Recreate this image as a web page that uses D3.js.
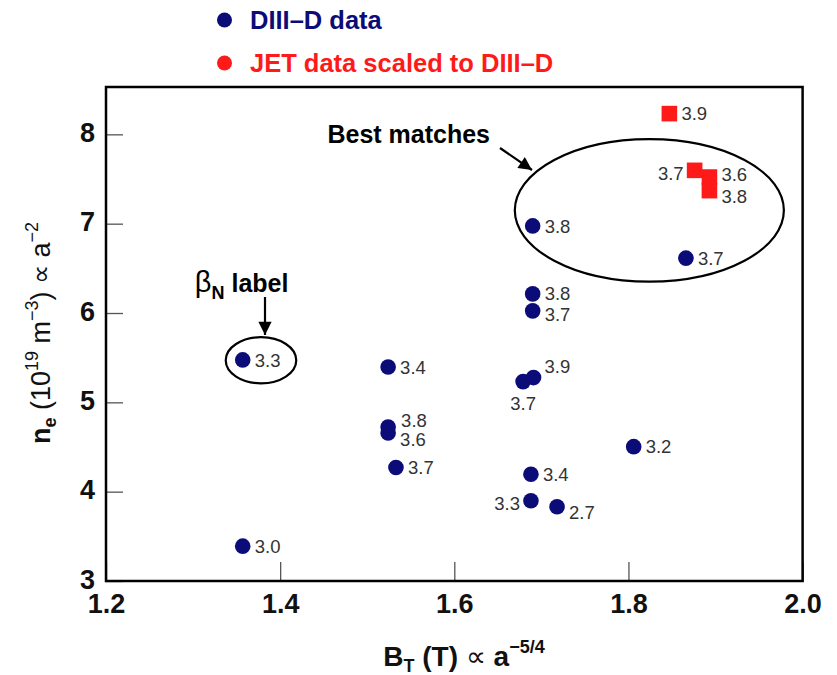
<!DOCTYPE html>
<html>
<head>
<meta charset="utf-8">
<script src="https://cdn.jsdelivr.net/npm/d3@7"></script>
<style>
  html, body { margin: 0; padding: 0; background: #fff; }
  svg { display: block; font-family: "Liberation Sans", Arial, Helvetica, sans-serif; }
</style>
</head>
<body>
<svg id="chart" width="837" height="675"></svg>
<script>
// ---------------- data ----------------
const diiidBT   = [1.357, 1.524, 1.524, 1.524, 1.533, 1.357, 1.690, 1.866, 1.690, 1.690, 1.679, 1.691, 1.688, 1.688, 1.718, 1.806];
const diiidNe   = [5.475, 5.396, 4.724, 4.657, 4.270, 3.390, 6.975, 6.614, 6.214, 6.024, 5.232, 5.277, 4.195, 3.899, 3.832, 4.504];
const diiidBeta = ["3.3", "3.4", "3.8", "3.6", "3.7", "3.0", "3.8", "3.7", "3.8", "3.7", "3.7", "3.9", "3.4", "3.3", "2.7", "3.2"];
const diiidSide = ["r", "r", "ru", "rd", "r", "r", "r", "r", "rt", "rb", "b", "ur", "r", "l", "rd", "r"];

const jetBT   = [1.847, 1.876, 1.893, 1.893];
const jetNe   = [8.232, 7.597, 7.522, 7.370];
const jetBeta = ["3.9", "3.7", "3.6", "3.8"];
const jetSide = ["r", "l", "rs", "rd"];

const xTicks = [1.2, 1.4, 1.6, 1.8, 2.0];
const yTicks = [3, 4, 5, 6, 7, 8];

const legendLabels = ["DIII\u2013D data", "JET data scaled to DIII\u2013D"];

// ---------------- layout ----------------
const svg = d3.select("#chart");
const x = d3.scaleLinear().domain([1.2, 2.0]).range([106, 802.6]);
const y = d3.scaleLinear().domain([3, 8.53]).range([581, 87]);

const navy = "#0c0c78";
const red = "#ff1a1a";
const labelColor = "#333";

// axes (inward ticks)
const xAxis = d3.axisBottom(x).tickValues(xTicks).tickSize(-19).tickPadding(12).tickFormat(d3.format(".1f"));
const yAxis = d3.axisLeft(y).tickValues(yTicks).tickSize(-17).tickPadding(11).tickFormat(d3.format("d"));

const gx = svg.append("g").attr("transform", `translate(0,${y(3)})`).call(xAxis);
const gy = svg.append("g").attr("transform", `translate(${x(1.2)},0)`).call(yAxis);
[gx, gy].forEach(g => {
  g.select(".domain").remove();
  g.selectAll(".tick line").attr("stroke", "#555").attr("stroke-width", 1.3);
  g.selectAll(".tick text").attr("fill", "#111").attr("font-size", 27).attr("font-weight", "bold")
    .attr("font-family", "'Liberation Sans', Arial, sans-serif");
});
gy.selectAll(".tick text").attr("dy", "0.26em");
gx.selectAll(".tick text").attr("dy", "0.75em");

// frame
svg.append("rect")
  .attr("x", x(1.2)).attr("y", y(8.53))
  .attr("width", x(2.0) - x(1.2)).attr("height", y(3) - y(8.53))
  .attr("fill", "none").attr("stroke", "#000").attr("stroke-width", 2.5);

// label placement helper
function labelOffset(side) {
  switch (side) {
    case "r":  return {dx: 12, dy: 0, anchor: "start"};
    case "rt": return {dx: 12, dy: -1, anchor: "start"};
    case "rb": return {dx: 12, dy: 3, anchor: "start"};
    case "ru": return {dx: 13, dy: -7, anchor: "start"};
    case "rs": return {dx: 12, dy: -3, anchor: "start"};
    case "rd": return {dx: 12, dy: 6, anchor: "start"};
    case "ur": return {dx: 11, dy: -11, anchor: "start"};
    case "l":  return {dx: -11, dy: 3, anchor: "end"};
    case "b":  return {dx: 0, dy: 22, anchor: "middle"};
  }
}

// JET squares
const jet = jetBT.map((v, i) => ({bt: v, ne: jetNe[i], beta: jetBeta[i], side: jetSide[i]}));
const sq = 15.6;
svg.append("g").selectAll("rect").data(jet).join("rect")
  .attr("x", d => x(d.bt) - sq / 2).attr("y", d => y(d.ne) - sq / 2)
  .attr("width", sq).attr("height", sq).attr("fill", red);

// DIII-D circles
const diiid = diiidBT.map((v, i) => ({bt: v, ne: diiidNe[i], beta: diiidBeta[i], side: diiidSide[i]}));
svg.append("g").selectAll("circle").data(diiid).join("circle")
  .attr("cx", d => x(d.bt)).attr("cy", d => y(d.ne)).attr("r", 7.8).attr("fill", navy);

// value labels
svg.append("g").selectAll("text").data(diiid.concat(jet)).join("text")
  .each(function(d) {
    const o = labelOffset(d.side);
    d3.select(this).attr("x", x(d.bt) + o.dx).attr("y", y(d.ne) + o.dy).attr("text-anchor", o.anchor);
  })
  .attr("dy", "0.36em").attr("font-size", 18.5).attr("fill", labelColor)
  .text(d => d.beta);

// legend
const legend = svg.append("g");
[navy, red].forEach((c, i) => {
  const ly = 20 + i * 43;
  legend.append("circle").attr("cx", 224.5).attr("cy", ly).attr("r", 7.5).attr("fill", c);
  legend.append("text").attr("x", 250).attr("y", ly).attr("dy", "0.36em")
    .attr("font-size", 25.5).attr("font-weight", "bold").attr("fill", c).text(legendLabels[i]);
});

// arrow marker
const defs = svg.append("defs");
defs.append("marker").attr("id", "arrow").attr("viewBox", "0 0 10 10")
  .attr("refX", 10).attr("refY", 5).attr("markerWidth", 7).attr("markerHeight", 6)
  .attr("markerUnits", "strokeWidth").attr("orient", "auto")
  .append("path").attr("d", "M0,0 L10,5 L0,10 Z").attr("fill", "#000");

// annotation: Best matches
svg.append("ellipse")
  .attr("cx", x(1.824)).attr("cy", y(7.149))
  .attr("rx", x(1.2 + 0.1545) - x(1.2)).attr("ry", y(3) - y(3 + 0.797))
  .attr("fill", "none").attr("stroke", "#000").attr("stroke-width", 2.2);
svg.append("text").attr("x", x(1.641)).attr("y", y(8.0)).attr("dy", "0.36em")
  .attr("text-anchor", "end").attr("font-size", 25).attr("font-weight", "bold").attr("fill", "#000")
  .text("Best matches");
svg.append("line")
  .attr("x1", x(1.6525)).attr("y1", y(7.847)).attr("x2", x(1.6892)).attr("y2", y(7.601))
  .attr("stroke", "#000").attr("stroke-width", 2.2).attr("marker-end", "url(#arrow)");

// annotation: beta_N label
svg.append("ellipse")
  .attr("cx", x(1.378)).attr("cy", y(5.471))
  .attr("rx", x(1.2 + 0.0405) - x(1.2)).attr("ry", y(3) - y(3 + 0.258))
  .attr("fill", "none").attr("stroke", "#000").attr("stroke-width", 2.2);
const bt = svg.append("text").attr("x", x(1.302)).attr("y", y(6.239))
  .attr("font-size", 25).attr("fill", "#000");
bt.append("tspan").attr("font-size", 29).text("\u03B2");
bt.append("tspan").attr("font-weight", "bold").attr("font-size", 18).attr("dy", 7).text("N");
bt.append("tspan").attr("font-weight", "bold").attr("dy", -7).text(" label");
svg.append("line")
  .attr("x1", x(1.3826)).attr("y1", y(6.179)).attr("x2", x(1.3826)).attr("y2", y(5.754))
  .attr("stroke", "#000").attr("stroke-width", 2.2).attr("marker-end", "url(#arrow)");

// x axis title
const xt = svg.append("text").attr("x", 464).attr("y", 666).attr("text-anchor", "middle")
  .attr("font-size", 28).attr("font-weight", "bold").attr("fill", "#111");
xt.append("tspan").text("B");
xt.append("tspan").attr("font-size", 18).attr("dy", 6).text("T");
xt.append("tspan").attr("dy", -6).text(" (T) ");
xt.append("tspan").attr("font-weight", "normal").text("\u221D");
xt.append("tspan").text(" a");
xt.append("tspan").attr("font-size", 18).attr("dy", -13).text("\u22125/4");

// y axis title
const yt = svg.append("text").attr("transform", "translate(50,333) rotate(-90)").attr("text-anchor", "middle")
  .attr("font-size", 27).attr("fill", "#111");
yt.append("tspan").attr("font-weight", "bold").text("n");
yt.append("tspan").attr("font-weight", "bold").attr("font-size", 18).attr("dy", 6).text("e");
yt.append("tspan").attr("dy", -6).text(" (10");
yt.append("tspan").attr("font-size", 18).attr("dy", -12).text("19");
yt.append("tspan").attr("dy", 12).text(" m");
yt.append("tspan").attr("font-size", 18).attr("dy", -12).text("\u22123");
yt.append("tspan").attr("dy", 12).text(") \u221D a");
yt.append("tspan").attr("font-size", 18).attr("dy", -12).text("\u22122");
</script>
</body>
</html>
